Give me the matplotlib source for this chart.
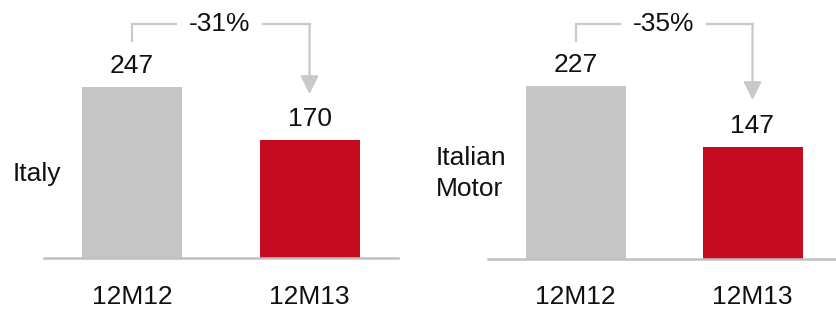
import matplotlib
matplotlib.use("Agg")
import matplotlib.pyplot as plt

plt.rcParams['font.family'] = ['Liberation Sans', 'DejaVu Sans']

categories = ["12M12", "12M13"]
italy_values = [247, 170]
motor_values = [227, 147]
italy_change = "-31%"
motor_change = "-35%"
panel_labels = ["Italy", "Italian\nMotor"]

GRAY = "#C6C6C6"
RED = "#C50B1F"
LINE = "#C9C9C9"
W, H = 836, 309
FS = 19

fig = plt.figure(figsize=(W / 100, H / 100), dpi=100)


def make_panel(x_left, x_right, baseline, scale, c0, spacing, values, change, change_x, label, label_x,
               tick_dy, tip_py):
    left = x_left / W
    width = (x_right - x_left) / W
    bottom = (H - baseline) / H
    height = baseline / H
    ax = fig.add_axes([left, bottom, width, height])
    xmin = -(c0 - x_left) / spacing
    xmax = xmin + (x_right - x_left) / spacing
    ax.set_xlim(xmin, xmax)
    ax.set_ylim(0, baseline / scale)
    ax.axis('off')
    xs = list(range(len(values)))
    bw = 100 / spacing
    ax.bar(xs, values, width=bw, color=[GRAY, RED], clip_on=False, zorder=2)
    ax.axhline(0, color="#C0C0C0", lw=1.8, zorder=3, clip_on=False)
    for x, v in zip(xs, values):
        ax.annotate(str(v), xy=(x, v), xytext=(0, 15), textcoords='offset points',
                    ha='center', va='center', fontsize=FS, color='#111111')
    for x, c in zip(xs, categories):
        ax.annotate(c, xy=(x, 0), xytext=(0, -tick_dy * 0.72), textcoords='offset points',
                    ha='center', va='center', fontsize=FS, color='#111111', annotation_clip=False)

    def yd(py):
        return (baseline - py) / scale

    def xd(px):
        return (px - c0) / spacing

    top_py = 24
    ax.plot([xs[0], xs[0], xd(change_x - 44)], [yd(41), yd(top_py), yd(top_py)],
            color=LINE, lw=1.6, clip_on=False, solid_joinstyle='miter')
    ax.plot([xd(change_x + 43), xs[1]], [yd(top_py), yd(top_py)],
            color=LINE, lw=1.6, clip_on=False)
    ax.annotate('', xy=(xs[1], yd(tip_py)), xytext=(xs[1], yd(top_py)),
                arrowprops=dict(arrowstyle='-|>,head_length=1.1,head_width=0.55',
                                mutation_scale=10, color=LINE, lw=1.6,
                                shrinkA=0, shrinkB=0), annotation_clip=False)
    ax.text(xd(change_x), yd(top_py), change, ha='center', va='center',
            fontsize=FS, color='#111111')
    fig.text(label_x / W, 1 - 173.5 / H, label, ha='left', va='center', fontsize=FS,
             color='#111111', linespacing=1.4)
    return ax


make_panel(44, 398, 257.5, 0.69, 132, 177.5, italy_values, italy_change, 220,
           panel_labels[0], 13, 40, 94)
make_panel(488, 836, 259, 0.764, 575.5, 177, motor_values, motor_change, 664,
           panel_labels[1], 436, 38.5, 100)

fig.savefig("out.png", dpi=100)
